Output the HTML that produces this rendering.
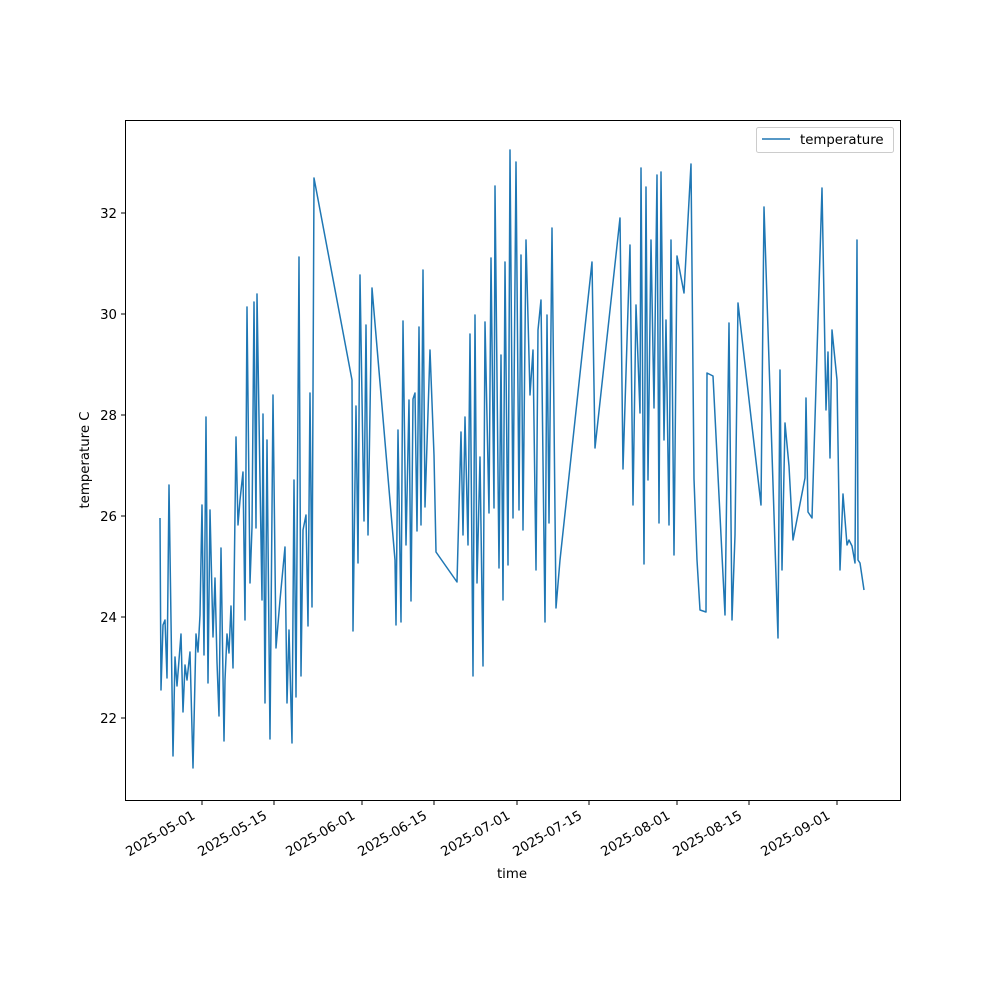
<!DOCTYPE html>
<html><head><meta charset="utf-8"><style>
body{margin:0;background:#fff}
text{font-family:"DejaVu Sans","Liberation Sans",sans-serif;font-size:13.3px;fill:#000}
</style></head><body>
<svg width="1000" height="1000" viewBox="0 0 1000 1000" xmlns="http://www.w3.org/2000/svg">
<rect width="1000" height="1000" fill="#fff"/>
<polyline fill="none" stroke="#1f77b4" stroke-width="1.5" stroke-linejoin="round" points="160,518 161,690 163,625 165,620 167,678 169,485 173,756 175,657 177,686 179,660 181,634 183,712 185,665 187,680 190,652 193,768 196,634 198,652 200,615 202,505 204,655 206,417 208,683 210,510 213,637 215,578 217,662 219,716 221,548 224,741 225,680 227,634 229,653 231,606 233,668 236,437 238,525 240,500 243,472 245,620 247,307 250,583 252,527 254,302 256,528 257,294 260,480 262,600 263,414 265,703 267,440 270,739 273,395 276,648 280,600 285,547 287,703 289,630 292,743 294,480 296,697 299,257 301,676 303,530 306,515 308,626 310,393 312,607 314,178 352,380 353,631 356,406 358,563 360,275 364,521 366,325 368,535 372,288 395,560 396,625 398,430 401,622 403,321 406,545 409,400 411,601 413,399 415,393 417,531 419,327 421,525 423,270 425,507 430,350 434,455 436,552 457,582 461,432 463,535 465,417 468,545 470,334 473,676 475,315 477,583 480,457 483,666 485,322 489,513 491,258 494,508 495,186 499,568 501,355 503,600 505,262 508,565 510,150 513,518 516,162 519,510 521,255 523,530 526,240 530,395 533,350 536,570 538,330 541,300 545,622 547,315 549,523 552,228 556,608 560,560 592,262 595,448 620,218 623,469 630,245 633,505 636,305 640,413 641,168 644,564 646,187 648,480 651,240 654,408 657,175 659,523 661,172 664,440 666,320 669,525 671,240 674,555 677,256 684,293 691,164 694,479 697,560 700,610 706,612 707,373 713,376 725,615 729,323 732,620 735,535 738,303 761,505 764,207 778,638 780,370 782,570 785,423 789,466 793,540 805,478 806,398 808,512 812,518 822,188 826,410 828,352 830,458 832,330 837,380 840,570 843,494 847,545 849,540 852,546 855,563 857,240 858,560 860,563 864,590"/>
<rect x="125.5" y="120.5" width="775" height="680" fill="none" stroke="#000" stroke-width="1"/>
<g stroke="#000" stroke-width="1">
<line x1="121" y1="718" x2="125" y2="718"/><line x1="121" y1="617" x2="125" y2="617"/><line x1="121" y1="516" x2="125" y2="516"/><line x1="121" y1="415" x2="125" y2="415"/><line x1="121" y1="314" x2="125" y2="314"/><line x1="121" y1="213" x2="125" y2="213"/>
<line x1="202" y1="800" x2="202" y2="805"/><line x1="274" y1="800" x2="274" y2="805"/><line x1="362" y1="800" x2="362" y2="805"/><line x1="434" y1="800" x2="434" y2="805"/><line x1="517" y1="800" x2="517" y2="805"/><line x1="589" y1="800" x2="589" y2="805"/><line x1="677" y1="800" x2="677" y2="805"/><line x1="749" y1="800" x2="749" y2="805"/><line x1="837" y1="800" x2="837" y2="805"/>
</g>
<g text-anchor="end">
<text x="117" y="723">22</text><text x="117" y="622">24</text><text x="117" y="521">26</text><text x="117" y="420">28</text><text x="117" y="319">30</text><text x="117" y="218">32</text>
</g>
<g text-anchor="end">
<text transform="translate(196,818) rotate(-30)">2025-05-01</text>
<text transform="translate(268,818) rotate(-30)">2025-05-15</text>
<text transform="translate(356,818) rotate(-30)">2025-06-01</text>
<text transform="translate(428,818) rotate(-30)">2025-06-15</text>
<text transform="translate(511,818) rotate(-30)">2025-07-01</text>
<text transform="translate(583,818) rotate(-30)">2025-07-15</text>
<text transform="translate(671,818) rotate(-30)">2025-08-01</text>
<text transform="translate(743,818) rotate(-30)">2025-08-15</text>
<text transform="translate(831,818) rotate(-30)">2025-09-01</text>
</g>
<text x="512" y="878" text-anchor="middle">time</text>
<text transform="translate(89,460) rotate(-90)" text-anchor="middle">temperature C</text>
<rect x="756.5" y="127.5" width="137" height="25" rx="2" fill="#fff" stroke="#ccc"/>
<line x1="762" y1="139" x2="790" y2="139" stroke="#1f77b4" stroke-width="1.5"/>
<text x="800" y="144">temperature</text>
</svg>
</body></html>
